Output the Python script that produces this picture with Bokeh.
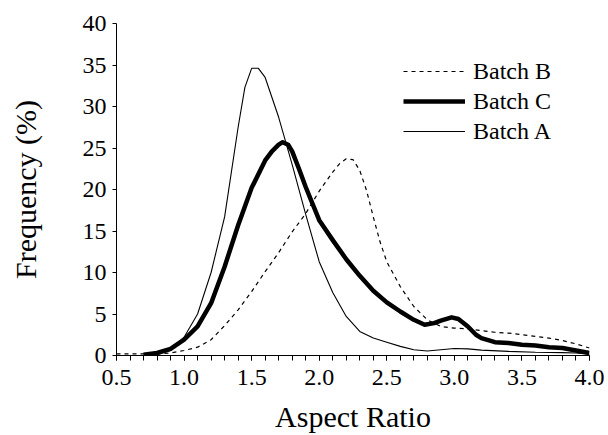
from bokeh.plotting import figure
from bokeh.models import Legend, LegendItem, FixedTicker, Range1d
from bokeh.embed import file_html
from bokeh.resources import INLINE

# Batch A (thin solid)
a_x = [0.7, 0.8, 0.9, 1.0, 1.1, 1.2, 1.3, 1.4, 1.45, 1.5, 1.55, 1.6, 1.7, 1.8, 1.9, 2.0,
       2.1, 2.2, 2.3, 2.4, 2.5, 2.6, 2.7, 2.8, 2.9, 3.0, 3.1, 3.2, 3.4, 3.6, 3.8, 3.9, 4.0]
a_y = [0.0, 0.15, 0.6, 2.2, 5.0, 10.0, 16.7, 27.5, 32.3, 34.6, 34.6, 33.5, 28.7, 23.0, 17.0, 11.3,
       7.6, 4.7, 2.9, 2.1, 1.6, 1.1, 0.7, 0.55, 0.7, 0.85, 0.8, 0.65, 0.5, 0.4, 0.35, 0.3, 0.15]

# Batch B (dashed)
b_x = [0.5, 0.6, 0.7, 0.8, 0.9, 1.0, 1.1, 1.2, 1.3, 1.4, 1.5, 1.6, 1.7, 1.8, 1.9, 2.0, 2.1,
       2.15, 2.2, 2.25, 2.3, 2.35, 2.4, 2.45, 2.5, 2.6, 2.7, 2.8, 2.9, 3.0, 3.1, 3.2, 3.3, 3.4,
       3.5, 3.6, 3.7, 3.8, 3.9, 4.0]
b_y = [0.2, 0.2, 0.2, 0.2, 0.3, 0.6, 1.0, 1.9, 3.6, 5.5, 7.7, 10.1, 12.4, 14.9, 17.1, 19.8, 22.1,
       23.1, 23.7, 23.6, 22.3, 19.9, 16.7, 13.7, 11.3, 8.3, 5.9, 4.3, 3.5, 3.3, 3.2, 3.0, 2.8, 2.7,
       2.5, 2.3, 2.1, 1.8, 1.4, 0.9]

# Batch C (thick solid)
c_x = [0.7, 0.8, 0.9, 1.0, 1.1, 1.2, 1.3, 1.4, 1.5, 1.6, 1.65, 1.7, 1.73, 1.77, 1.8, 1.85,
       1.9, 2.0, 2.1, 2.2, 2.3, 2.4, 2.5, 2.6, 2.7, 2.78, 2.85, 2.9, 2.98, 3.03, 3.1, 3.16,
       3.2, 3.3, 3.4, 3.5, 3.6, 3.7, 3.8, 3.9, 4.0]
c_y = [0.1, 0.3, 0.8, 1.9, 3.5, 6.3, 10.7, 15.7, 20.2, 23.5, 24.6, 25.4, 25.7, 25.4, 24.6, 22.5,
       20.3, 16.3, 13.9, 11.6, 9.6, 7.8, 6.4, 5.3, 4.3, 3.7, 3.9, 4.2, 4.6, 4.4, 3.5, 2.5,
       2.1, 1.6, 1.5, 1.3, 1.2, 1.0, 0.9, 0.6, 0.3]

x_ticks = [0.5, 1.0, 1.5, 2.0, 2.5, 3.0, 3.5, 4.0]
x_minor = [round(0.5 + 0.1 * i, 1) for i in range(36)]
y_ticks = [0, 5, 10, 15, 20, 25, 30, 35, 40]

FONT = "Liberation Serif"

p = figure(width=608, height=435, output_backend="svg", toolbar_location=None,
           x_range=Range1d(0.5, 4.0), y_range=Range1d(0, 40),
           min_border_left=116, min_border_right=19, min_border_top=23, min_border_bottom=79)
p.outline_line_color = None
p.xgrid.visible = False
p.ygrid.visible = False
p.background_fill_color = "white"
p.border_fill_color = "white"

rb = p.line(b_x, b_y, line_color="black", line_width=1.2, line_dash="4 4")
rc = p.line(c_x, c_y, line_color="black", line_width=4.5, line_join="round")
ra = p.line(a_x, a_y, line_color="black", line_width=1.1)

p.xaxis.ticker = FixedTicker(ticks=x_ticks, minor_ticks=x_minor)
p.yaxis.ticker = FixedTicker(ticks=y_ticks)
p.xaxis.major_label_overrides = {v: f"{v:.1f}" for v in x_ticks}

for ax in (p.xaxis[0], p.yaxis[0]):
    ax.axis_line_color = "black"
    ax.axis_line_width = 1
    ax.major_tick_line_color = "black"
    ax.minor_tick_line_color = "black"
    ax.major_tick_in = 0
    ax.minor_tick_in = 0
    ax.major_label_text_font = FONT
    ax.major_label_text_font_size = "24px"
    ax.major_label_text_color = "black"
    ax.axis_label_text_font = FONT
    ax.axis_label_text_font_size = "30px"
    ax.axis_label_text_font_style = "normal"
    ax.axis_label_text_color = "black"

p.xaxis.major_tick_out = 5
p.xaxis.minor_tick_out = 5
p.xaxis.major_label_standoff = 9
p.xaxis.axis_label = "Aspect Ratio"
p.xaxis.axis_label_standoff = 12

p.yaxis.major_tick_out = 4
p.yaxis.minor_tick_out = 0
p.yaxis.major_label_standoff = 6
p.yaxis.axis_label = "Frequency (%)"
p.yaxis.axis_label_standoff = 38

legend = Legend(items=[LegendItem(label="Batch B", renderers=[rb]),
                       LegendItem(label="Batch C", renderers=[rc]),
                       LegendItem(label="Batch A", renderers=[ra])],
                location=(287, 209))
legend.border_line_color = None
legend.background_fill_alpha = 0
legend.padding = 0
legend.margin = 0
legend.spacing = 0
legend.glyph_width = 62
legend.glyph_height = 30
legend.label_height = 30
legend.label_standoff = 8
legend.label_text_font = FONT
legend.label_text_font_size = "24px"
legend.label_text_color = "black"
p.add_layout(legend, "center")

open("out.html", "w").write(file_html(p, INLINE))
